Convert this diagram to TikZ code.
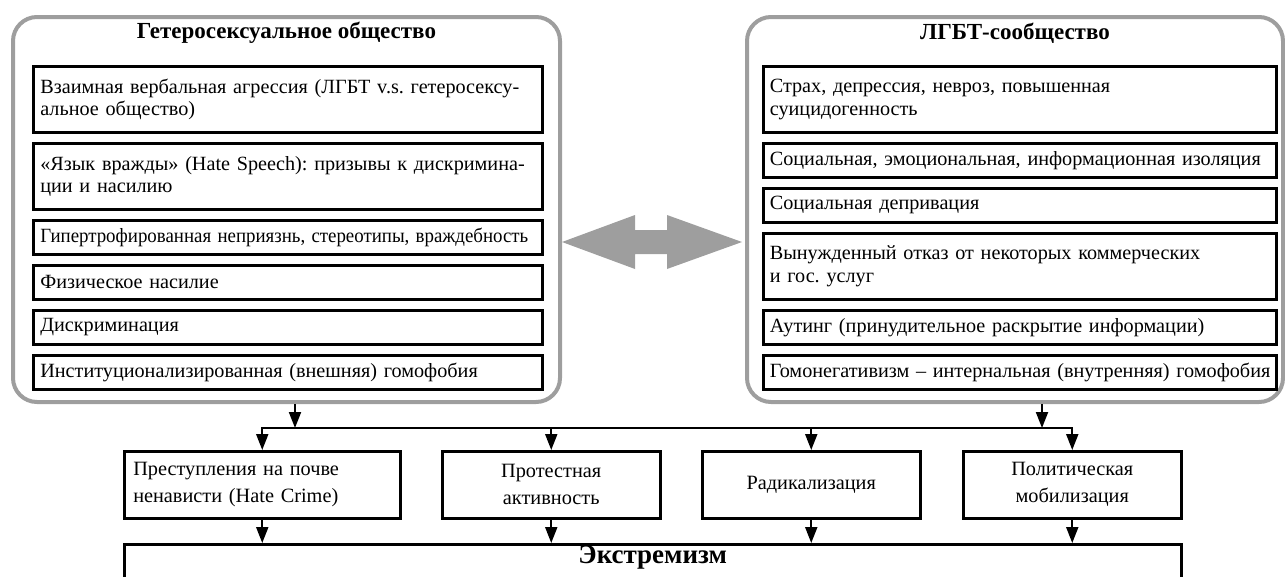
\documentclass[tikz,border=0pt]{standalone}
\usepackage{fontspec}
\usepackage{graphicx}
\setmainfont{Liberation Serif}
\usetikzlibrary{arrows.meta,calc}
\definecolor{pgray}{RGB}{158,158,158}
\frenchspacing
\begin{document}
\begin{tikzpicture}[x=1pt,y=-1pt,
  ibox/.style={draw, line width=2.7pt, anchor=north west, inner xsep=7pt, inner ysep=0pt, align=left, font=\fontsize{20.2}{22.5}\selectfont},
  lbox/.style={ibox, minimum width=509pt, text width=495pt},
  rbox/.style={ibox, minimum width=513pt, text width=500pt, inner xsep=6.5pt},
  two/.style={minimum height=66pt},
  one/.style={minimum height=34pt},
  panel/.style={draw=pgray, line width=4pt, rounded corners=24pt, anchor=north west, inner sep=0pt},
  ptitle/.style={font=\bfseries\fontsize{23}{26}\selectfont},
  obox/.style={draw, line width=2.5pt, anchor=north west, minimum height=67pt, inner xsep=9pt, inner ysep=0pt, font=\fontsize{20.3}{27}\selectfont},
  con/.style={line width=2pt},
  arr/.style={con, -{Triangle[length=16pt,width=12pt]}},
]
\useasboundingbox (0,0) rectangle (1285,576);
\clip (0,0) rectangle (1285,576);

% panels
\node[panel, minimum width=547pt, minimum height=385pt] (L) at (11,15) {};
\node[panel, minimum width=536pt, minimum height=385pt] (R) at (745,15) {};
\node[ptitle] (Lt) at ($(L.north)+(0,18)$) {Гетеросексуальное общество};
\node[ptitle] (Rt) at ($(R.north)+(0,18)$) {ЛГБТ-сообщество};

% left boxes
\node[lbox, two] (l1) at (32,65) {Взаимная вербальная агрессия (ЛГБТ v.s. гетеросексу-\\альное общество)};
\node[lbox, two] (l2) at (32,142) {«Язык вражды» (Hate Speech): призывы к дискримина-\\ции и насилию};
\node[lbox, one] (l3) at (32,219) {\resizebox{488pt}{\height}{Гипертрофированная неприязнь, стереотипы, враждебность}};
\node[lbox, one] (l4) at (32,264) {Физическое насилие};
\node[lbox, one] (l5) at (32,309) {Дискриминация};
\node[lbox, one] (l6) at (32,354) {Институционализированная (внешняя) гомофобия};

% right boxes
\node[rbox, two] (r1) at (762,65) {Страх, депрессия, невроз, повышенная\\суицидогенность};
\node[rbox, one] (r2) at (762,142) {Социальная, эмоциональная, информационная изоляция};
\node[rbox, one] (r3) at (762,187) {Социальная депривация};
\node[rbox, two] (r4) at (762,232) {Вынужденный отказ от некоторых коммерческих\\и гос. услуг};
\node[rbox, one] (r5) at (762,309) {Аутинг (принудительное раскрытие информации)};
\node[rbox, one] (r6) at (762,354) {\mbox{Гомонегативизм – интернальная (внутренняя) гомофобия}};

% double arrow between panels
\fill[pgray] (562,242) -- (635,215) -- (635,230) -- (667,230) -- (667,215) -- (742,242)
  -- (667,269) -- (667,254) -- (635,254) -- (635,269) -- cycle;

% bottom boxes
\node[obox, minimum width=276pt, text width=258pt, align=left] (b1) at (123,450) {Преступления на почве\\ненависти (Hate Crime)};
\node[obox, minimum width=218pt, text width=200pt, align=center] (b2) at (441,450) {Протестная\\активность};
\node[obox, minimum width=218pt, text width=200pt, align=center] (b3) at (701,450) {Радикализация};
\node[obox, minimum width=218pt, text width=200pt, align=center] (b4) at (962,450) {Политическая\\мобилизация};

\node[draw, line width=2.5pt, anchor=north west, minimum width=1057pt, minimum height=50pt, inner sep=0pt] (E) at (123,543) {};
\node[font=\bfseries\fontsize{27}{30}\selectfont] (Et) at ($(E.north)+(0,14)$) {Экстремизм};

% connectors
\coordinate (jL) at (295,428);
\coordinate (jR) at (1042,428);
\draw[arr] (L.south -| jL) -- (jL);
\draw[arr] (R.south -| jR) -- (jR);
\draw[con, line cap=rect] (b1.north |- jL) -- (b4.north |- jL);
\foreach \b in {b1,b2,b3,b4} {
  \draw[arr] (\b.north |- jL) -- (\b.north);
  \draw[arr] (\b.south) -- (\b.south |- E.north);
}
\end{tikzpicture}
\end{document}
